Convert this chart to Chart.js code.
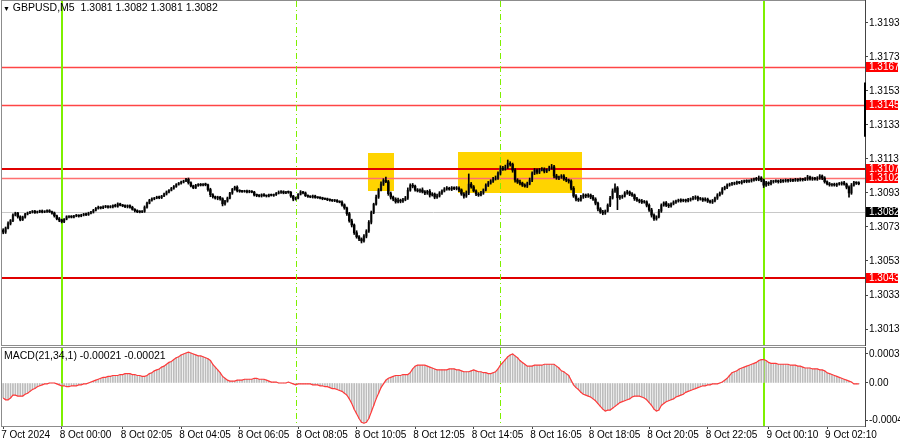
<!DOCTYPE html>
<html>
<head>
<meta charset="utf-8">
<script src="https://cdn.jsdelivr.net/npm/chart.js@4.4.1/dist/chart.umd.min.js"></script>
<style>
  html, body { margin: 0; padding: 0; background: #fff; }
  #wrap { position: relative; width: 900px; height: 441px; overflow: hidden; background: #fff; }
  #box-main { position: absolute; left: 0; top: 0; width: 900px; height: 347px; }
  #box-macd { position: absolute; left: 0; top: 346px; width: 900px; height: 95px; }
  .lbl { position: absolute; font: 10.5px 'Liberation Sans Narrow', 'Liberation Sans', Arial, sans-serif; color: #000; white-space: pre; }
</style>
</head>
<body>
<div id="wrap">
  <div id="box-main"><canvas id="chart-main"></canvas></div>
  <div id="box-macd"><canvas id="chart-macd"></canvas></div>
  <div class="lbl" style="left:3px;top:1px"><span style="font-size:7px">▼</span> GBPUSD,M5  1.3081 1.3082 1.3081 1.3082</div>
  <div class="lbl" style="left:4px;top:349px">MACD(21,34,1) -0.00021 -0.00021</div>
</div>
<script>
// =====================================================
//  GBPUSD M5 — velas + MACD(21,34,1)
// =====================================================

// cierres en puntos sobre 1.30000 (7 Oct 22:00 -> 9 Oct 03:15)
const closes = [
  700,724,750,768,800,812,790,772,788,806,
  812,818,822,815,820,824,818,822,826,820,
  812,796,778,771,762,776,790,792,788,795,
  798,794,800,806,802,812,818,828,840,845,
  842,848,852,846,850,856,852,866,858,854,
  850,856,846,834,826,820,818,822,846,870,
  888,895,900,906,902,912,924,936,946,958,
  968,980,988,994,1000,1010,990,972,960,975,
  980,976,982,978,950,920,908,900,905,896,
  866,882,900,930,952,964,944,940,938,942,
  936,940,935,918,916,912,920,914,912,918,
  916,920,928,934,938,930,936,934,912,894,
  900,922,936,930,914,910,906,912,904,902,
  900,896,894,890,888,884,886,880,876,860,
  842,808,766,742,696,672,660,648,676,706,
  758,816,864,906,948,982,1004,996,926,906,
  894,878,888,882,890,900,946,976,970,948,
  942,948,936,930,940,918,924,906,912,930,
  942,954,958,952,960,956,958,948,924,912,
  930,982,966,942,924,918,930,948,976,988,
  1000,1012,1018,1046,1076,1070,1082,1104,1098,1064,
  1006,994,988,976,970,984,1006,1046,1064,1052,
  1066,1070,1058,1066,1078,1084,1030,1018,1024,1030,
  1012,1006,1000,958,912,894,888,906,918,912,
  918,906,894,870,836,818,812,824,858,900,
  942,960,902,906,912,930,936,924,918,896,
  888,882,876,878,858,830,800,778,790,824,
  858,872,858,854,866,876,882,886,884,888,
  884,890,895,900,906,894,896,888,894,882,
  876,884,900,918,930,954,964,976,982,984,
  988,992,990,996,1000,998,1002,1006,1012,1010,
  1018,1006,976,990,984,996,998,1000,996,1002,
  1000,1004,1002,1006,1004,1008,1006,1010,1008,1012,
  1024,1012,1016,1012,1016,1030,1018,996,984,978,
  980,976,982,984,990,982,964,930,976,990,
  988,984
];
const firstOpen = 712;

// mechas (puntos por encima / por debajo del cuerpo)
const hiWick = [
  8,6,10,6,8,5,4,6,6,4, 6,4,5,6,4,5,6,4,5,6, 4,6,4,8,5,4,6,4,5,4, 6,4,5,4,6,5,4,6,5,8,
  4,6,5,4,6,5,8,6,4,5, 6,4,5,6,4,5,6,4,8,6, 5,6,4,5,6,4,5,6,4,5, 6,5,4,6,5,6,8,5,4,6,
  5,6,4,6,5,8,6,4,6,5, 6,5,6,4,5,6,8,5,6,4, 5,6,4,5,6,4,5,6,4,5, 6,4,5,8,6,5,4,6,5,4,
  6,5,8,4,6,5,4,6,5,4, 6,5,4,6,5,4,6,5,4,8, 6,5,8,10,6,12,8,6,10,8, 10,8,6,12,8,14,10,20,8,10,
  6,8,12,6,8,10,14,8,10,6, 8,6,12,8,6,10,8,6,12,8, 6,8,10,6,8,6,10,8,6,8, 12,60,10,8,6,8,10,6,8,10,
  8,10,12,8,14,10,12,20,10,8, 10,8,12,6,8,10,12,8,10,8, 8,10,8,6,10,14,8,10,6,8, 8,10,6,8,10,8,6,10,8,6,
  8,6,10,8,6,8,10,6,8,10, 12,24,8,10,6,8,10,6,8,6, 8,6,10,8,6,8,10,8,6,10, 8,6,8,10,6,8,6,8,10,6,
  6,8,6,10,8,6,8,6,8,6, 6,8,6,8,6,8,6,8,6,8, 6,8,6,8,6,8,6,8,6,10, 12,8,6,8,6,8,6,8,6,8,
  6,8,6,8,6,8,6,8,6,8, 10,6,8,6,10,8,6,8,6,8, 6,8,6,8,6,8,6,8,10,8, 6,8
];
const loWick = [
  10,8,6,8,6,5,8,6,4,6, 5,4,6,5,4,6,5,4,6,5, 6,8,6,10,8,6,4,6,5,4, 5,6,4,5,6,4,5,6,4,5,
  6,4,5,6,4,8,5,6,4,5, 6,8,6,5,8,6,5,4,6,5, 4,6,5,4,6,5,4,6,5,4, 6,5,4,6,5,4,8,6,5,4,
  6,5,4,6,10,12,8,6,10,8, 12,8,6,5,8,6,8,6,5,4, 6,5,4,6,8,5,6,4,6,5, 4,6,5,4,6,5,4,6,8,10,
  6,5,4,6,5,6,4,6,5,4, 5,6,4,5,6,4,5,6,4,8, 8,10,8,12,10,8,10,12,8,10, 8,10,8,6,8,6,8,6,10,12,
  10,8,6,10,8,6,8,6,10,8, 6,8,6,10,8,12,6,10,8,6, 8,6,8,6,8,6,8,10,8,12, 8,10,8,6,10,8,6,8,6,8,
  6,8,6,8,10,8,6,8,10,12, 12,8,10,8,6,8,6,10,8,10, 8,6,10,8,6,8,12,8,10,8, 8,10,12,10,8,10,8,6,8,10,
  8,10,8,10,12,8,10,8,6,8, 6,8,70,10,8,6,8,10,8,10, 8,10,8,6,10,8,12,10,8,6, 8,6,8,10,8,6,8,6,8,6,
  8,6,8,6,8,10,6,8,6,8, 6,8,6,8,6,8,6,8,6,8, 6,8,6,8,6,8,6,8,6,8, 8,10,14,8,10,6,8,6,8,6,
  8,6,8,6,8,6,8,6,8,6, 8,6,8,6,8,6,10,8,6,8, 8,6,8,6,8,6,10,24,8,6, 8,6
];

// MACD(21,34,1) en unidades de 0.00001
const macd = [
  -16,-18,-18,-16,-13,-13,-14,-14,-14,-12,
  -11,-9,-7,-6,-4,-3,-2,-1,-1,0,
  0,0,-1,-2,-3,-3,-4,-4,-3,-3,
  -3,-2,-2,-1,-1,0,1,2,3,4,
  5,6,6,7,7,8,8,8,9,9,
  10,10,10,9,9,8,8,7,7,8,
  10,11,13,14,15,17,18,20,22,23,
  25,27,28,30,31,32,33,32,31,30,
  29,29,28,27,26,24,20,17,14,11,
  7,5,3,2,2,2,3,3,3,4,
  4,4,4,5,5,4,4,4,3,2,
  1,1,1,0,0,0,0,1,0,-1,
  -2,-1,-1,-1,-1,-1,-1,-2,-2,-2,
  -3,-3,-4,-4,-5,-6,-6,-7,-8,-9,
  -11,-13,-17,-22,-28,-33,-38,-42,-43,-42,
  -38,-31,-24,-17,-11,-5,-1,3,5,6,
  7,8,8,8,9,9,9,11,15,18,
  19,19,19,19,18,17,16,15,14,14,
  14,14,14,15,15,15,14,14,13,12,
  12,12,13,14,13,12,12,11,11,10,
  10,11,12,15,19,22,25,28,30,31,
  29,27,24,22,20,18,18,18,19,19,
  19,19,20,20,20,20,20,18,16,13,
  12,10,8,3,-2,-5,-7,-10,-12,-13,
  -14,-15,-17,-19,-22,-25,-28,-30,-29,-29,
  -27,-25,-23,-21,-20,-19,-18,-17,-15,-14,
  -14,-14,-15,-16,-18,-21,-24,-28,-30,-29,
  -24,-22,-20,-19,-18,-17,-15,-14,-13,-12,
  -10,-9,-8,-7,-6,-5,-4,-3,-3,-2,
  -2,-1,-1,-1,0,1,3,5,8,11,
  12,13,15,16,17,18,19,20,21,22,
  24,25,25,24,22,21,21,21,20,20,
  20,20,20,19,19,19,18,18,17,16,
  16,16,15,15,15,14,14,13,11,10,
  9,8,7,6,5,4,3,2,1,-1,
  -1,-1
];

// ejes
const priceTicks = [1.3013, 1.3033, 1.3053, 1.3073, 1.3093, 1.3113, 1.3133, 1.3153, 1.3173, 1.3193];
const macdTickVals = [0.00031, 0, -0.0004];
const macdTickText = ['0.00031', '0.00', '-0.0004'];
const timeTickIdx = [0, 24, 49, 73, 97, 121, 145, 169, 193, 217, 241, 265, 289, 314, 338];
const timeTickText = ['7 Oct 2024', '8 Oct 00:00', '8 Oct 02:05', '8 Oct 04:05', '8 Oct 06:05', '8 Oct 08:05',
  '8 Oct 10:05', '8 Oct 12:05', '8 Oct 14:05', '8 Oct 16:05', '8 Oct 18:05', '8 Oct 20:05',
  '8 Oct 22:05', '9 Oct 00:10', '9 Oct 02:10'];

// niveles y marcas
const levels = [1.3167, 1.3145, 1.3107, 1.3102, 1.3043];
const bidLevel = 1.3082;
const axisMark = [1.3158, 1.3126];
const dayLines = [24, 312];
const sessionLines = [120, 204];
const boxStart = [150, 187];
const boxEnd = [160, 237];
const boxTop = [1.31165, 1.31171];
const boxBottom = [1.30942, 1.3093];

// ---------- estilos ----------
const FONT = "'Liberation Sans Narrow', 'Liberation Sans', Arial, sans-serif";
const levelStyle = [
  { color: '#ff4545', width: 1.5 },
  { color: '#ff4545', width: 1.5 },
  { color: '#e00000', width: 2 },
  { color: '#ff7070', width: 1.5 },
  { color: '#e00000', width: 2 },
];
const X_MIN = -0.49, X_MAX = 353.56;

const px = p => 1.3 + p / 100000;
const opens = closes.map((c, i) => i ? closes[i - 1] : firstOpen);

const fixedWidth = s => { s.width = 35; s.paddingTop = 0; s.paddingBottom = 0; };

// líneas verticales, niveles y cajas detrás de las velas
const bgPlugin = {
  id: 'bg',
  beforeDatasetsDraw(chart, args, opts) {
    const { ctx, chartArea: a, scales: { x, y } } = chart;
    ctx.save();
    ctx.beginPath(); ctx.rect(a.left, a.top, a.right - a.left, a.bottom - a.top); ctx.clip();
    if (opts.boxes) {
      ctx.fillStyle = '#ffd400';
      boxStart.forEach((s, k) => {
        const x0 = Math.round(x.getPixelForValue(s - 0.5)), x1 = Math.round(x.getPixelForValue(boxEnd[k] + 0.5));
        const y0 = Math.round(y.getPixelForValue(boxTop[k])), y1 = Math.round(y.getPixelForValue(boxBottom[k]));
        ctx.fillRect(x0, y0, x1 - x0, y1 - y0);
      });
    }
    if (opts.levels) {
      const yb = Math.round(y.getPixelForValue(bidLevel)) + 0.5;
      ctx.strokeStyle = '#c8c8c8'; ctx.lineWidth = 1;
      ctx.beginPath(); ctx.moveTo(a.left, yb); ctx.lineTo(a.right, yb); ctx.stroke();
      levels.forEach((lv, k) => {
        const w = levelStyle[k].width;
        const yy = Math.round(y.getPixelForValue(lv)) + (w === 2 ? 0 : 0.5);
        ctx.strokeStyle = levelStyle[k].color; ctx.lineWidth = w;
        ctx.beginPath(); ctx.moveTo(a.left, yy); ctx.lineTo(a.right, yy); ctx.stroke();
      });
    }
    ctx.strokeStyle = '#7ef000';
    ctx.lineWidth = 2;
    dayLines.forEach(i => {
      const xx = Math.round(x.getPixelForValue(i));
      ctx.beginPath(); ctx.moveTo(xx, a.top); ctx.lineTo(xx, a.bottom); ctx.stroke();
    });
    ctx.lineWidth = 1;
    ctx.setLineDash([6, 3, 1, 3]);
    sessionLines.forEach(i => {
      const xx = Math.round(x.getPixelForValue(i)) + 0.5;
      ctx.beginPath(); ctx.moveTo(xx, a.top); ctx.lineTo(xx, a.bottom); ctx.stroke();
    });
    ctx.restore();
  },
  afterDraw(chart, args, opts) {
    const { ctx, chartArea: a, scales: { y } } = chart;
    ctx.save();
    ctx.strokeStyle = '#8c8c8c'; ctx.lineWidth = 1;
    ctx.strokeRect(a.left - 0.5, a.top - 0.5, a.right - a.left + 1, a.bottom - a.top + 1);
    ctx.strokeStyle = '#444';
    ctx.beginPath(); ctx.moveTo(a.right + 0.5, a.top - 1); ctx.lineTo(a.right + 0.5, a.bottom + 1); ctx.stroke();
    if (opts.levels) {
      ctx.strokeStyle = '#000'; ctx.lineWidth = 2;
      ctx.beginPath();
      ctx.moveTo(a.right, y.getPixelForValue(axisMark[0]));
      ctx.lineTo(a.right, y.getPixelForValue(axisMark[1]));
      ctx.stroke();
      ctx.font = '10px ' + FONT;
      ctx.textBaseline = 'middle';
      const tag = (v, bg) => {
        const yy = Math.round(y.getPixelForValue(v));
        ctx.fillStyle = bg; ctx.fillRect(a.right + 1, yy - 5, 32, 10);
        ctx.fillStyle = '#fff'; ctx.fillText(v.toFixed(4), a.right + 4, yy + 0.5);
      };
      levels.forEach(lv => tag(lv, '#ff0000'));
      tag(bidLevel, '#000');
    }
    ctx.restore();
  }
};

const mainChart = new Chart(document.getElementById('chart-main'), {
  type: 'bar',
  data: {
    datasets: [
      {
        label: 'mechas',
        data: closes.map((c, i) => ({ x: i, y: [px(Math.min(opens[i], c) - loWick[i]), px(Math.max(opens[i], c) + hiWick[i])] })),
        backgroundColor: '#000', barThickness: 1, grouped: false, minBarLength: 1,
      },
      {
        label: 'cuerpos',
        data: closes.map((c, i) => ({ x: i, y: [px(opens[i]), px(c)] })),
        backgroundColor: closes.map((c, i) => c > opens[i] ? '#6e6e6e' : '#000'),
        barThickness: 1.8, grouped: false, minBarLength: 1,
      },
    ]
  },
  options: {
    responsive: true, maintainAspectRatio: false, animation: false,
    layout: { padding: { left: 2, top: 1, right: 0, bottom: 2 } },
    plugins: { legend: { display: false }, tooltip: { enabled: false }, bg: { boxes: true, levels: true } },
    scales: {
      x: { type: 'linear', min: X_MIN, max: X_MAX, offset: false, display: false },
      y: {
        position: 'right', min: 1.30036, max: 1.32059,
        afterBuildTicks: s => { s.ticks = priceTicks.map(v => ({ value: v })); },
        afterFit: fixedWidth,
        grid: { drawOnChartArea: false, tickLength: 3, color: '#444' },
        border: { display: false },
        ticks: { callback: v => v.toFixed(4), font: { family: FONT, size: 10 }, color: '#000', padding: 1 }
      }
    }
  },
  plugins: [bgPlugin]
});

const macdChart = new Chart(document.getElementById('chart-macd'), {
  type: 'bar',
  data: {
    datasets: [
      {
        type: 'line', label: 'señal',
        data: macd.map((v, i) => ({ x: i, y: v / 100000 })),
        borderColor: '#ff3a3a', borderWidth: 1.2, pointRadius: 0, tension: 0,
      },
      {
        label: 'MACD',
        data: macd.map((v, i) => ({ x: i, y: v / 100000 })),
        backgroundColor: '#bcbcbc', barThickness: 1, grouped: false,
      },
    ]
  },
  options: {
    responsive: true, maintainAspectRatio: false, animation: false,
    layout: { padding: { left: 2, top: 2, right: 0, bottom: 0 } },
    plugins: { legend: { display: false }, tooltip: { enabled: false }, bg: { boxes: false, levels: false } },
    scales: {
      x: {
        type: 'linear', min: X_MIN, max: X_MAX, offset: false,
        afterBuildTicks: s => { s.ticks = timeTickIdx.map(v => ({ value: v })); },
        afterFit: s => { s.height = 15; s.paddingLeft = 0; s.paddingRight = 0; },
        grid: { drawOnChartArea: false, tickLength: 3, color: '#444', offset: false },
        border: { display: false },
        ticks: {
          callback: v => timeTickText[timeTickIdx.indexOf(v)],
          autoSkip: false, maxRotation: 0, align: 'start', labelOffset: -2,
          font: { family: FONT, size: 10 }, color: '#000', padding: 0
        }
      },
      y: {
        position: 'right', min: -0.00046, max: 0.000374,
        afterBuildTicks: s => { s.ticks = macdTickVals.map(v => ({ value: v })); },
        afterFit: fixedWidth,
        grid: { drawOnChartArea: false, tickLength: 3, color: '#444' },
        border: { display: false },
        ticks: { callback: v => macdTickText[macdTickVals.indexOf(v)], font: { family: FONT, size: 10 }, color: '#000', padding: 1 }
      }
    }
  },
  plugins: [bgPlugin]
});
</script>
</body>
</html>
